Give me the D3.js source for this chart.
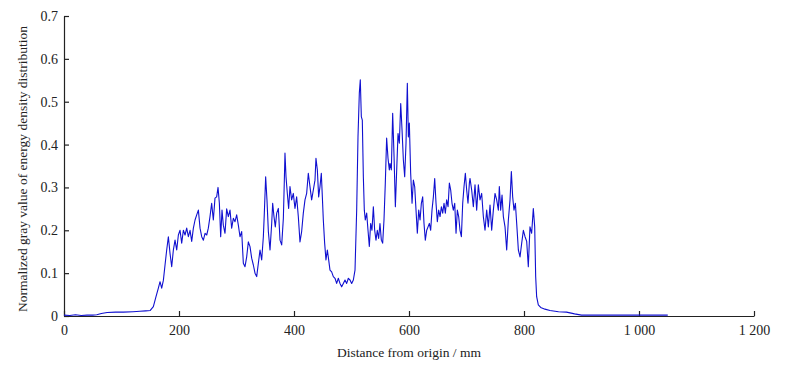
<!DOCTYPE html>
<html>
<head>
<meta charset="utf-8">
<script src="https://cdn.jsdelivr.net/npm/d3@7"></script>
<style>
    body { margin: 0; background: #fff; }
    svg { display: block; }
    .axis text { font-family: "Liberation Serif", "Times New Roman", serif; font-size: 14px; fill: #222; }
    .axis path, .axis line { stroke: #222; stroke-width: 1.2; }
    .title { font-family: "Liberation Serif", "Times New Roman", serif; font-size: 13.5px; fill: #222; }
</style>
</head>
<body>
<script>
// Distance along the profile (mm)
const distance = [
    0, 10, 20, 30, 40, 50, 57, 65, 75, 90, 103, 120, 132, 142, 150,
    155.4, 160.0, 164.1, 167.0, 169.9, 172.8, 175.7, 178.6, 181.5, 184.4, 187.3, 190.2, 193.1, 196.0, 198.9,
    201.8, 204.7, 207.6, 210.5, 213.4, 216.3, 219.2, 222.1, 225.0, 227.9, 230.8, 233.7, 236.6, 239.5, 242.4,
    245.3, 248.2, 251.0, 253.9, 256.8, 259.7, 262.6, 265.5, 267.9, 270.2, 272.5, 274.8, 277.1, 280.0, 282.9,
    285.8, 288.7,
    291.6, 294.5, 297.4, 300.3, 303.2, 306.1, 309.0, 311.9, 314.8, 317.7, 320.6, 323.5, 326.4, 329.3, 332.2,
    335.1, 338.0, 340.9, 343.8, 346.7, 348.4, 350.7, 353.0, 355.4, 358.3, 361.2, 362.9, 365.2, 367.5, 369.9,
    372.8, 375.7, 378.6, 381.5, 383.2, 384.3, 386.1, 388.4, 390.7, 393.0, 395.9, 398.8, 401.7, 404.6, 407.5,
    410.4, 413.3, 416.2, 419.1, 422.0, 424.9, 427.8,
    430.7, 433.6, 436.5, 438.2, 440.6, 442.9, 445.2, 447.5, 449.3, 451.0, 453.3, 455.6, 458.0, 460.3, 462.6,
    465.5, 468.4, 471.3, 474.2, 477.1, 480.0, 482.9, 485.8, 488.7, 491.6, 494.5, 497.4, 500.3, 503.2, 506.1,
    509.0, 511.3, 513.6, 515.3, 517.1, 518.8, 520.6, 522.3, 524.0, 526.4, 528.7, 531.0, 533.3, 535.6, 538.0,
    540.3, 542.6, 544.9, 547.2, 549.5, 551.9, 554.2, 556.5, 558.8, 561.1, 563.5, 565.8,
    567.0, 569.3, 571.6, 574.0, 576.3, 578.6, 580.9, 583.2, 585.6, 587.9, 590.2, 592.5, 594.8, 597.1, 598.9,
    600.6, 602.9, 605.3, 607.6, 609.9, 612.2, 614.5, 616.9, 619.2, 621.5, 623.8, 626.1, 628.4, 630.8, 633.1,
    635.4, 637.7, 640.0, 642.4, 644.7, 647.0, 649.3, 651.6, 654.0, 656.3, 658.6, 660.9, 663.2, 665.5, 667.9,
    670.2, 672.5, 674.8, 677.1, 679.5, 681.8, 684.1, 686.4, 688.7, 691.1, 693.4, 695.7, 698.0, 700.3, 702.6,
    705.0,
    706.1, 709.0, 711.9, 714.8, 717.7, 720.6, 723.5, 726.4, 729.3, 732.2, 735.1, 738.0, 740.9, 743.8, 746.7,
    749.6, 752.5, 755.4, 757.1, 759.4, 761.8, 764.1, 767.0, 769.9, 772.8, 775.7, 778.0, 780.3, 782.6, 785.0,
    787.3, 790.2, 793.1, 796.0, 798.9, 801.8, 804.7, 807.5, 810.4, 813.3, 816.2, 818.6, 820.3, 822.0, 824.9,
    829.0, 836.5, 845.2, 860, 874, 888, 900, 920, 950, 980, 1000, 1020, 1050
]

// Normalized gray value at each distance
const grayValue = [
    0.002, 0.001, 0.003, 0.001, 0.002, 0.002, 0.003, 0.006, 0.008, 0.009, 0.009, 0.010, 0.011, 0.012, 0.013,
    0.022, 0.045, 0.065, 0.080, 0.065, 0.083, 0.119, 0.154, 0.185, 0.146, 0.115, 0.154, 0.177, 0.154, 0.189,
    0.200, 0.170, 0.200, 0.189, 0.205, 0.185, 0.200, 0.174, 0.205, 0.224, 0.236, 0.247, 0.205, 0.185, 0.177,
    0.193, 0.189, 0.205, 0.232, 0.263, 0.224, 0.275, 0.278, 0.300, 0.263, 0.185, 0.247, 0.212, 0.193, 0.250,
    0.232, 0.247,
    0.205, 0.228, 0.220, 0.236, 0.212, 0.185, 0.197, 0.123, 0.115, 0.138, 0.173, 0.162, 0.135, 0.119, 0.100,
    0.092, 0.123, 0.154, 0.131, 0.185, 0.240, 0.325, 0.271, 0.197, 0.154, 0.216, 0.263, 0.232, 0.208, 0.240,
    0.251, 0.177, 0.166, 0.228, 0.317, 0.380, 0.325, 0.286, 0.251, 0.302, 0.271, 0.286, 0.251, 0.278, 0.232,
    0.173, 0.197, 0.240, 0.271, 0.286, 0.333, 0.302,
    0.271, 0.294, 0.317, 0.368, 0.341, 0.278, 0.302, 0.333, 0.278, 0.224, 0.170, 0.131, 0.154, 0.131, 0.107,
    0.103, 0.092, 0.088, 0.076, 0.088, 0.076, 0.068, 0.076, 0.084, 0.076, 0.088, 0.084, 0.076, 0.084, 0.107,
    0.247, 0.418, 0.520, 0.551, 0.465, 0.457, 0.325, 0.247, 0.224, 0.240, 0.200, 0.162, 0.216, 0.200, 0.255,
    0.200, 0.177, 0.200, 0.181, 0.216, 0.177, 0.170, 0.224, 0.310, 0.415, 0.368, 0.341,
    0.356, 0.341, 0.473, 0.372, 0.255, 0.341, 0.426, 0.403, 0.496, 0.434, 0.364, 0.325, 0.403, 0.543, 0.418,
    0.450, 0.333, 0.263, 0.317, 0.302, 0.247, 0.193, 0.247, 0.224, 0.263, 0.278, 0.216, 0.177, 0.200, 0.208,
    0.216, 0.200, 0.247, 0.278, 0.321, 0.263, 0.220, 0.247, 0.232, 0.255, 0.240, 0.263, 0.240, 0.271, 0.255,
    0.310, 0.294, 0.263, 0.247, 0.263, 0.193, 0.247, 0.232, 0.200, 0.185, 0.263, 0.302, 0.333, 0.294, 0.263,
    0.310,
    0.321, 0.294, 0.255, 0.306, 0.247, 0.306, 0.271, 0.286, 0.232, 0.200, 0.247, 0.208, 0.259, 0.200, 0.247,
    0.286, 0.271, 0.247, 0.302, 0.247, 0.282, 0.232, 0.208, 0.154, 0.224, 0.271, 0.337, 0.278, 0.247, 0.263,
    0.216, 0.154, 0.138, 0.170, 0.200, 0.185, 0.174, 0.115, 0.208, 0.193, 0.251, 0.208, 0.092, 0.045, 0.026,
    0.020, 0.016, 0.013, 0.010, 0.009, 0.005, 0.002, 0.002, 0.002, 0.002, 0.002, 0.002, 0.002
]

const xTicks = [0, 200, 400, 600, 800, 1000, 1200]
const yTicks = [0, 0.1, 0.2, 0.3, 0.4, 0.5, 0.6, 0.7]

const xTitle = "Distance from origin / mm"
const yTitle = "Normalized gray value of energy density distribution"

// Size of plot
const width = 789
const height = 369
const margin = {top: 16, right: 35, bottom: 53, left: 64}

const svg = d3.select("body")
    .append("svg")
    .attr("width", width)
    .attr("height", height)

const xScale = d3.scaleLinear()
    .domain([0, 1200])
    .range([margin.left, width - margin.right])

const yScale = d3.scaleLinear()
    .domain([0, 0.7])
    .range([height - margin.bottom, margin.top])

// "1 000" style thousands
const spaced = d3.formatLocale({decimal: ".", thousands: " ", grouping: [3], currency: ["", ""]}).format(",d")

svg.append("g")
    .attr("class", "axis")
    .attr("transform", `translate(0, ${height - margin.bottom})`)
    .call(d3.axisBottom(xScale)
        .tickValues(xTicks)
        .tickSizeInner(-5)
        .tickSizeOuter(0)
        .tickPadding(9)
        .tickFormat(spaced))

svg.append("g")
    .attr("class", "axis")
    .attr("transform", `translate(${margin.left}, 0)`)
    .call(d3.axisLeft(yScale)
        .tickValues(yTicks)
        .tickSizeInner(-5)
        .tickSizeOuter(0)
        .tickPadding(6)
        .tickFormat(d => d === 0 ? "0" : d3.format(".1f")(d)))

// the profile line
const points = distance.map((d, i) => [d, grayValue[i]])

const line = d3.line()
    .x(d => xScale(d[0]))
    .y(d => yScale(d[1]))

svg.append("path")
    .datum(points)
    .attr("fill", "none")
    .attr("stroke", "#1010d0")
    .attr("stroke-width", 1.1)
    .attr("stroke-linejoin", "round")
    .attr("d", line)

// Axis titles
svg.append("text")
    .attr("class", "title")
    .attr("x", xScale(600))
    .attr("y", 357)
    .attr("text-anchor", "middle")
    .text(xTitle)

svg.append("text")
    .attr("class", "title")
    .attr("transform", `translate(27, ${(yScale(0) + yScale(0.7)) / 2 + 3}) rotate(-90)`)
    .attr("text-anchor", "middle")
    .text(yTitle)
</script>
</body>
</html>
